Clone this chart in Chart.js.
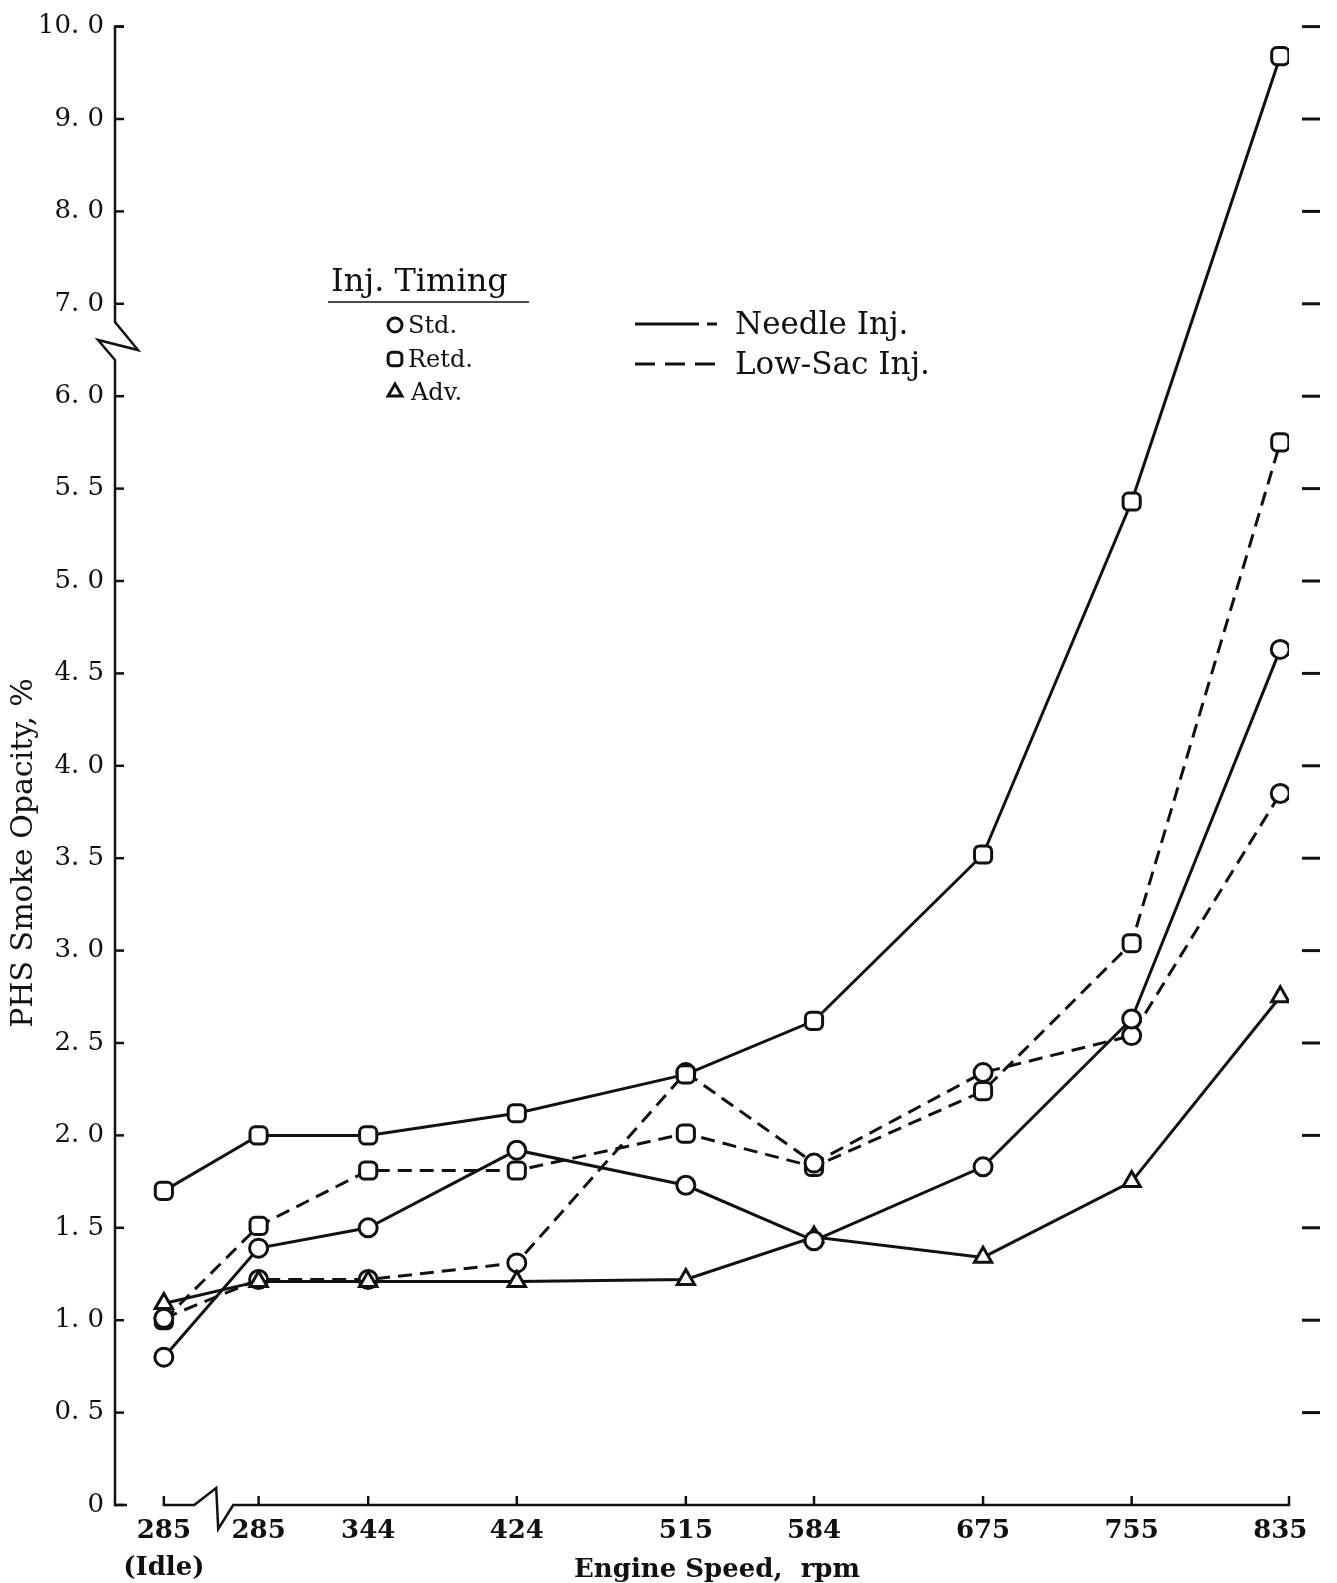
<!DOCTYPE html>
<html>
<head>
<meta charset="utf-8">
<title>PHS Smoke Opacity vs Engine Speed</title>
<script src="https://cdn.jsdelivr.net/npm/chart.js@4.4.1/dist/chart.umd.min.js"></script>
<style>
  html, body { margin: 0; padding: 0; background: #fff; }
  canvas { display: block; }
</style>
</head>
<body>
<canvas id="smokeChart" width="1337" height="1583"></canvas>
<script>
// ---------------------------Data-------------------------------------------------------
// first point of every series is the idle point (285 rpm idle), then the loaded speeds
const speedRpm = [285, 344, 424, 515, 584, 675, 755, 835];
const xTickLabels = [['285', '(Idle)'], '285', '344', '424', '515', '584', '675', '755', '835'];

// PHS smoke opacity, %
const stdNeedle  = [0.80, 1.39, 1.50, 1.92, 1.73, 1.43, 1.83, 2.63, 4.63];
const retdNeedle = [1.70, 2.00, 2.00, 2.12, 2.33, 2.62, 3.52, 5.43, 9.68];
const advNeedle  = [1.09, 1.21, 1.21, 1.21, 1.22, 1.45, 1.34, 1.75, 2.75];
const stdLowSac  = [1.01, 1.22, 1.22, 1.31, 2.34, 1.85, 2.34, 2.54, 3.85];
const retdLowSac = [1.00, 1.51, 1.81, 1.81, 2.01, 1.83, 2.24, 3.04, 5.75];

const yTickValues = [0, 0.5, 1.0, 1.5, 2.0, 2.5, 3.0, 3.5, 4.0, 4.5, 5.0, 5.5, 6.0, 7.0, 8.0, 9.0, 10.0];
const yTickLabels = ['0', '0. 5', '1. 0', '1. 5', '2. 0', '2. 5', '3. 0', '3. 5', '4. 0', '4. 5',
                     '5. 0', '5. 5', '6. 0', '7. 0', '8. 0', '9. 0', '10. 0'];
// ----------------------------------------------------------------------------------------

const INK = '#111';

// y axis is broken between 6 and 7: above 6.0 one tick step is 1.0 instead of 0.5
const toAxis = v => (v <= 6 ? v : 6 + (v - 6) / 2);

// x axis is broken too: the idle point sits left of the break
const IDLE_POS = 234;
const X_MIN = 207.7;
const X_MAX = 839.7;

const toPoints = vals => vals.map((v, i) => ({ x: i === 0 ? IDLE_POS : speedRpm[i - 1], y: toAxis(v) }));

function series(label, vals, style, dashed) {
  const r = style === 'circle' ? 9 : 10;
  return {
    label: label,
    data: toPoints(vals),
    borderColor: INK,
    borderWidth: 3,
    borderDash: dashed ? [14, 8] : [],
    pointStyle: style,
    pointRadius: r,
    pointHoverRadius: r,
    pointBorderWidth: 3,
    pointBorderColor: INK,
    pointBackgroundColor: '#fff',
    tension: 0,
    fill: false
  };
}

// axes with breaks, right hand tick dashes, legend and titles
const frame = {
  id: 'frame',
  afterDraw(chart) {
    const { ctx, chartArea: a, scales: { x, y } } = chart;
    ctx.save();
    ctx.strokeStyle = INK;
    ctx.fillStyle = INK;
    ctx.lineWidth = 2.5;
    ctx.lineJoin = 'miter';

    // y axis
    const xb = a.left;
    const yBreak = (y.getPixelForValue(toAxis(6)) + y.getPixelForValue(toAxis(7))) / 2;
    ctx.beginPath();
    ctx.moveTo(xb + 9, a.top);
    ctx.lineTo(xb, a.top);
    ctx.lineTo(xb, yBreak - 28);
    ctx.lineTo(xb + 23, yBreak);
    ctx.lineTo(xb - 17, yBreak - 10);
    ctx.lineTo(xb, yBreak + 10);
    ctx.lineTo(xb, a.bottom);
    ctx.lineTo(xb + 12, a.bottom);
    ctx.stroke();
    yTickValues.forEach(v => {
      const py = y.getPixelForValue(toAxis(v));
      ctx.beginPath();
      ctx.moveTo(xb, py);
      ctx.lineTo(xb + 9, py);
      ctx.stroke();
    });

    // x axis
    const yb = a.bottom;
    const p0 = x.getPixelForValue(IDLE_POS);
    const m = (p0 + x.getPixelForValue(speedRpm[0])) / 2;
    ctx.beginPath();
    ctx.moveTo(p0, yb - 9);
    ctx.lineTo(p0, yb);
    ctx.lineTo(m - 17, yb);
    ctx.lineTo(m + 5, yb - 17);
    ctx.lineTo(m + 7, yb + 24);
    ctx.lineTo(m + 22, yb);
    ctx.lineTo(a.right, yb);
    ctx.lineTo(a.right, yb - 9);
    ctx.stroke();
    speedRpm.slice(0, -1).forEach(s => {
      const px = x.getPixelForValue(s);
      ctx.beginPath();
      ctx.moveTo(px, yb);
      ctx.lineTo(px, yb - 9);
      ctx.stroke();
    });

    // dashes on the right side
    ctx.lineWidth = 3;
    yTickValues.slice(1).forEach(v => {
      const py = y.getPixelForValue(toAxis(v));
      ctx.beginPath();
      ctx.moveTo(a.right + 13, py);
      ctx.lineTo(a.right + 31, py);
      ctx.stroke();
    });

    // legend: timing symbols
    ctx.textAlign = 'left';
    ctx.textBaseline = 'alphabetic';
    ctx.font = '32px "DejaVu Serif"';
    ctx.fillText('Inj. Timing', 331, 291);
    ctx.lineWidth = 1.5;
    ctx.beginPath();
    ctx.moveTo(328, 302);
    ctx.lineTo(529, 302);
    ctx.stroke();

    const marks = [['circle', 7, 'Std.', 325, 408], ['rectRounded', 8, 'Retd.', 359, 408], ['triangle', 8, 'Adv.', 392, 411]];
    ctx.font = '24px "DejaVu Serif"';
    marks.forEach(([style, r, txt, cy, tx]) => {
      ctx.fillStyle = '#fff';
      ctx.lineWidth = 3;
      Chart.helpers.drawPoint(ctx, { pointStyle: style, radius: r, borderWidth: 3, rotation: 0 }, 395, cy);
      ctx.fillStyle = INK;
      ctx.fillText(txt, tx, cy + 8);
    });

    // legend: injector line styles
    ctx.lineWidth = 3;
    ctx.beginPath();
    ctx.moveTo(635, 324);
    ctx.lineTo(699, 324);
    ctx.moveTo(707, 324);
    ctx.lineTo(717, 324);
    ctx.stroke();
    ctx.setLineDash([20, 10]);
    ctx.beginPath();
    ctx.moveTo(635, 364);
    ctx.lineTo(716, 364);
    ctx.stroke();
    ctx.setLineDash([]);
    ctx.font = '31px "DejaVu Serif"';
    ctx.fillText('Needle Inj.', 735, 334);
    ctx.fillText('Low-Sac Inj.', 735, 374);

    // axis titles
    ctx.textAlign = 'center';
    ctx.font = 'bold 26px "DejaVu Serif"';
    ctx.fillText('Engine Speed,  rpm', 717, 1577);

    ctx.translate(24, 853);
    ctx.rotate(-Math.PI / 2);
    ctx.textBaseline = 'middle';
    ctx.font = '30px "DejaVu Serif"';
    ctx.fillText('PHS Smoke Opacity, %', 0, 0);
    ctx.restore();
  }
};

const ctx = document.getElementById('smokeChart').getContext('2d');

const smokeChart = new Chart(ctx, {
  type: 'line',
  data: {
    datasets: [
      series('Std., Needle Inj.', stdNeedle, 'circle', false),
      series('Retd., Needle Inj.', retdNeedle, 'rectRounded', false),
      series('Adv., Needle Inj.', advNeedle, 'triangle', false),
      series('Std., Low-Sac Inj.', stdLowSac, 'circle', true),
      series('Retd., Low-Sac Inj.', retdLowSac, 'rectRounded', true)
    ]
  },
  options: {
    responsive: false,
    animation: false,
    layout: { padding: { top: 25, right: 48, left: 0, bottom: 0 } },
    scales: {
      x: {
        type: 'linear',
        min: X_MIN,
        max: X_MAX,
        afterFit: s => { s.height = 78; },
        afterBuildTicks: s => {
          s.ticks = [IDLE_POS].concat(speedRpm).map(v => ({ value: v }));
        },
        grid: { display: false, drawTicks: false },
        border: { display: false },
        ticks: {
          autoSkip: false,
          maxRotation: 0,
          padding: 7,
          color: INK,
          font: { family: 'DejaVu Serif', size: 26, weight: 'bold', lineHeight: 1.45 },
          callback: (value, index) => xTickLabels[index]
        }
      },
      y: {
        type: 'linear',
        min: 0,
        max: toAxis(10),
        afterFit: s => { s.width = 115; },
        afterBuildTicks: s => {
          s.ticks = yTickValues.map(v => ({ value: toAxis(v) }));
        },
        grid: { display: false, drawTicks: false },
        border: { display: false },
        ticks: {
          padding: 11,
          color: INK,
          font: { family: 'DejaVu Serif', size: 26 },
          callback: (value, index) => yTickLabels[index]
        }
      }
    },
    plugins: {
      legend: { display: false },
      tooltip: { enabled: false }
    }
  },
  plugins: [frame]
});
</script>
</body>
</html>
